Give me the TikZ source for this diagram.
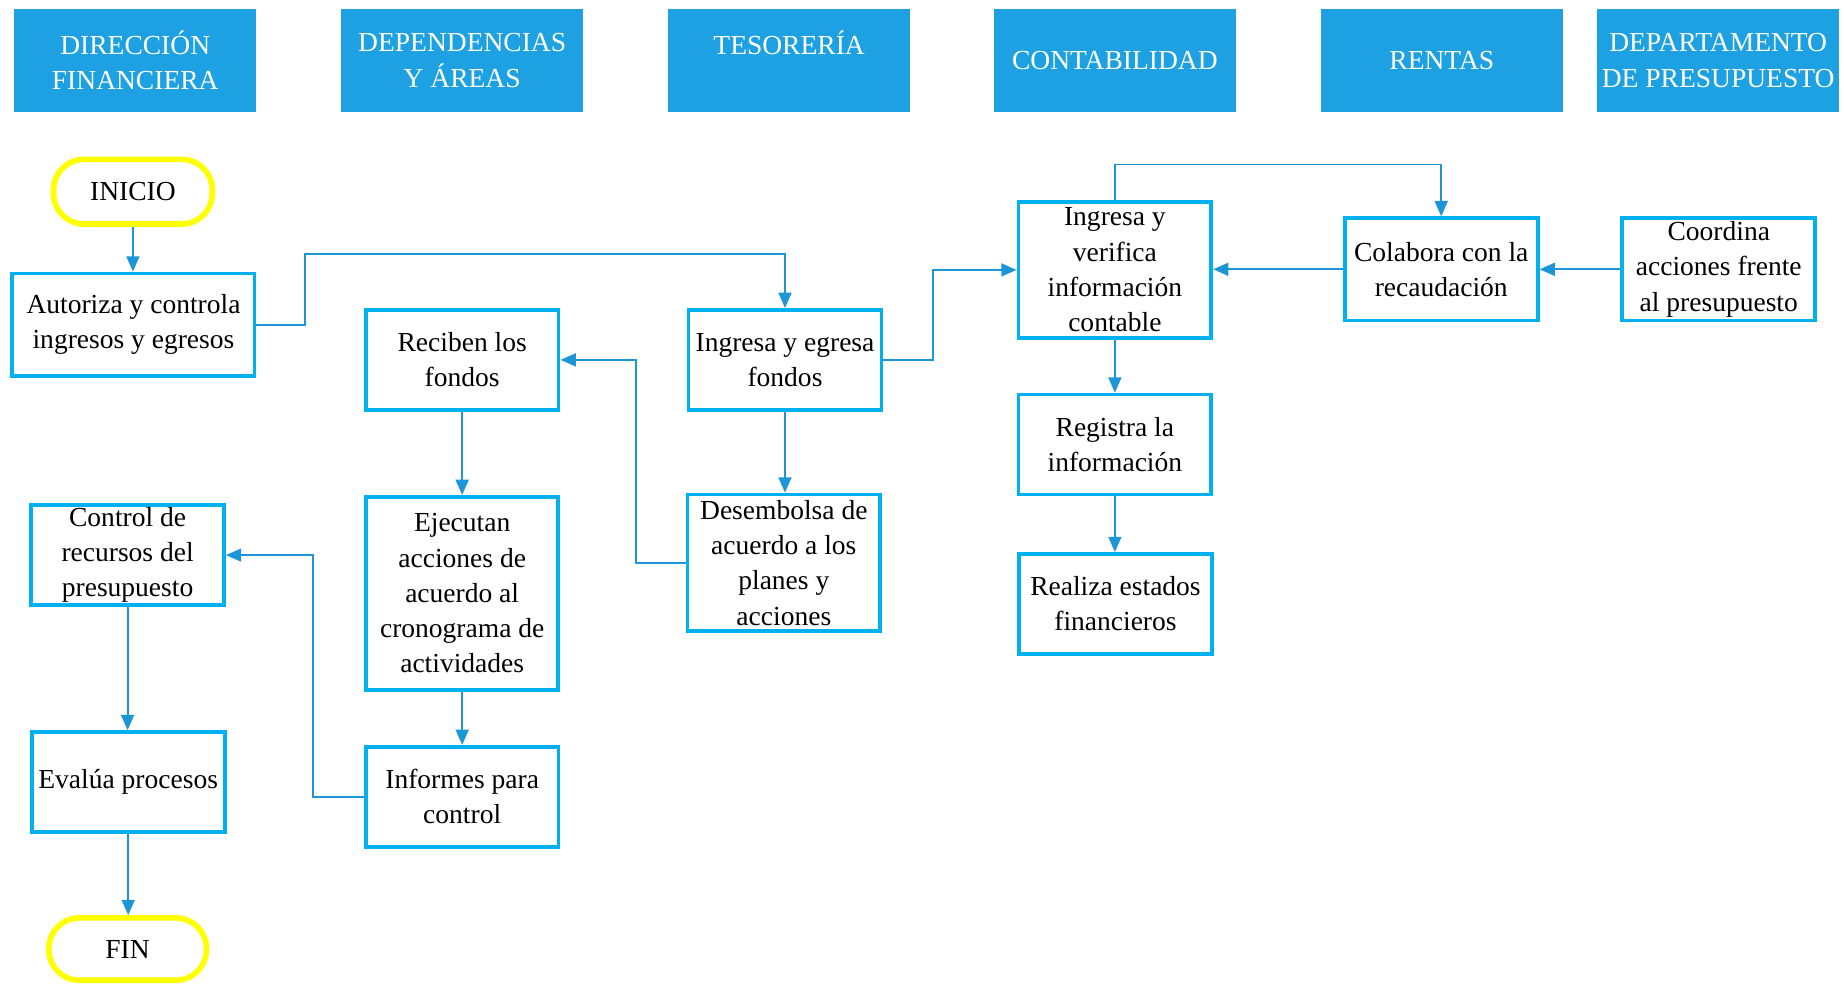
\documentclass[tikz,border=0pt]{standalone}
\usepackage{fontspec}
\setmainfont{Liberation Serif}
\usetikzlibrary{arrows.meta}
\definecolor{laneblue}{RGB}{29,161,226}
\definecolor{boxcyan}{RGB}{0,176,240}
\definecolor{linkblue}{RGB}{28,150,214}
\definecolor{termyellow}{RGB}{255,255,0}

\begin{document}
\begin{tikzpicture}[x=0.5pt,y=-0.5pt,
  txt/.style={font=\fontsize{11.7pt}{15pt}\selectfont},
  lane/.style={txt, fill=laneblue, text=white, minimum width=103pt, minimum height=43.5pt, inner sep=0pt, align=center},
  stepbox/.style={txt, draw=boxcyan, line width=1.6pt, fill=white, inner sep=0pt, align=center, minimum width=82pt, minimum height=42.5pt},
  term/.style={txt, draw=termyellow, line width=2.4pt, fill=white, inner sep=0pt, rounded corners=13pt, minimum width=67.5pt, minimum height=27.5pt},
  link/.style={draw=linkblue, line width=0.8pt, -{Triangle[length=6.5pt,width=5.5pt]}}
]
\useasboundingbox (0,0) rectangle (1568,837);

% swimlane headers
\node[lane] (hdir) at (115,51.5)  {DIRECCIÓN\\FINANCIERA};
\node[lane] (hdep) at (393,51.5)  {DEPENDENCIAS\\Y ÁREAS};
\node[lane] (htes) at (671,51.5)  {TESORERÍA\\\mbox{}};
\node[lane] (hcon) at (948,51.5)  {CONTABILIDAD};
\node[lane] (hren) at (1226,51.5) {RENTAS};
\node[lane] (hpre) at (1461,51.5) {DEPARTAMENTO\\DE PRESUPUESTO};

% process steps
\node[term] (ini) at (113,163) {INICIO};
\node[stepbox, minimum width=103pt, minimum height=43.5pt] (aut) at (113.5,276) {Autoriza y controla\\ingresos y egresos};
\node[stepbox] (rec) at (393,306) {Reciben los\\fondos};
\node[stepbox] (ingeg) at (667.5,306) {Ingresa y egresa\\fondos};
\node[stepbox, minimum height=58pt] (des) at (666.5,478.5) {Desembolsa de\\acuerdo a los\\planes y\\acciones};
\node[stepbox, minimum width=81.5pt, minimum height=82pt] (eje) at (393,504.5) {Ejecutan\\acciones de\\acuerdo al\\cronograma de\\actividades};
\node[stepbox] (inf) at (393,677.5) {Informes para\\control};
\node[stepbox] (ctrl) at (108.5,472) {Control de\\recursos del\\presupuesto};
\node[stepbox] (eva) at (109,665) {Evalúa procesos};
\node[term, minimum width=67pt, minimum height=26.5pt] (fin) at (108.5,807) {FIN};
\node[stepbox, minimum height=58pt] (ver) at (948,229.5) {Ingresa y\\verifica\\información\\contable};
\node[stepbox] (reg) at (948,378) {Registra la\\información};
\node[stepbox] (rea) at (948.5,513.5) {Realiza estados\\financieros};
\node[stepbox, minimum height=43.5pt] (col) at (1225.5,229) {Colabora con la\\recaudación};
\node[stepbox, minimum height=43.5pt] (coo) at (1461.5,229) {Coordina\\acciones frente\\al presupuesto};

% connectors
\draw[link] (ini.south) -- (ini.south |- aut.north);
\draw[link] (aut.east) -- ++(41,0) -- ++(0,-60) -| (ingeg.north);
\draw[link] (ingeg.east) -- ++(42,0) |- (ver.west);
\draw[link] (ingeg.south) -- (ingeg.south |- des.north);
\draw[link] (des.west) -- ++(-42,0) |- (rec.east);
\draw[link] (rec.south) -- (eje.north);
\draw[link] (eje.south) -- (inf.north);
\draw[link] (inf.west) -- ++(-43,0) |- (ctrl.east);
\draw[link] (ctrl.south) -- (ctrl.south |- eva.north);
\draw[link] (eva.south) -- (eva.south |- fin.north);
\draw[link] (ver.north) -- ++(0,-30) -| (col.north);
\draw[link] (col.west) -- (col.west -| ver.east);
\draw[link] (coo.west) -- (coo.west -| col.east);
\draw[link] (ver.south) -- (reg.north);
\draw[link] (reg.south) -- (reg.south |- rea.north);
\end{tikzpicture}
\end{document}
